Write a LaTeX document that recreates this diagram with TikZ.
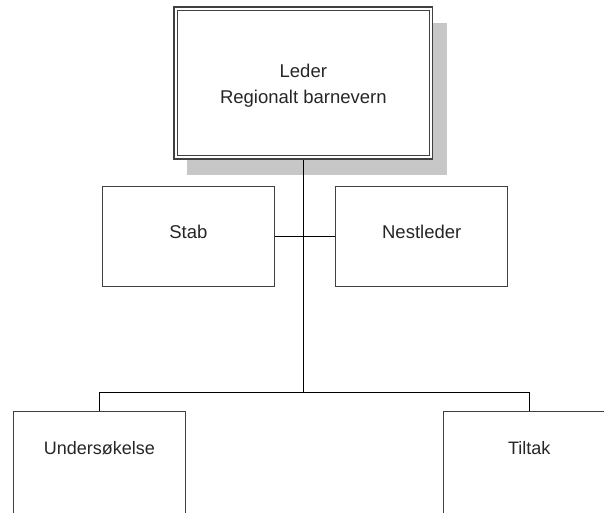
\documentclass[tikz,border=0pt]{standalone}
\usepackage{fontspec}
\setmainfont{Liberation Sans}
\begin{document}
\begin{tikzpicture}[x=1pt,y=-1pt,
  box/.style={draw=black!75, line width=1.1pt, fill=white, minimum width=172pt, minimum height=100pt, inner sep=0pt},
  lbl/.style={font=\fontsize{18.5}{25.5}\selectfont, text=black!85, align=center, inner sep=0pt},
  conn/.style={draw=black, line width=1.3pt}]
\useasboundingbox (0,0) rectangle (604,512);
\clip (0,0) rectangle (604,512);
% shadow of top box
\fill[black!22] (186.7,23) rectangle (447,175);
% top box with double border
\node[draw=black!75, line width=1.1pt, fill=white, minimum width=258.7pt, minimum height=152pt, inner sep=0pt] (leder) at (303.3,83) {};
\node[draw=black!75, line width=1.1pt, minimum width=251.7pt, minimum height=145pt, inner sep=0pt] (lederin) at (303.3,83) {};
\node[lbl] (ledert) at (303.3,85.5) {Leder\\Regionalt barnevern};
% second level
\node[box] (stab) at (188.3,236.7) {};
\node[lbl] (stabt) at (188.3,232) {Stab};
\node[box] (nest) at (421.7,236.7) {};
\node[lbl] (nestt) at (421.7,232) {Nestleder};
% bottom level
\node[box, minimum height=112pt] (unders) at (99.3,467.7) {};
\node[lbl, font=\fontsize{18}{24}\selectfont] (underst) at (99.3,448) {Undersøkelse};
\node[box, minimum height=112pt] (tiltak) at (529.3,467.7) {};
\node[lbl, font=\fontsize{18}{24}\selectfont] (tiltakt) at (529.3,448) {Tiltak};
% connectors
\coordinate (junc) at (303.3,392.7);
\draw[conn] (leder.south) -- (junc);
\draw[conn] (stab.east) -- (nest.west);
\draw[conn] (unders.north) |- (junc) -| (tiltak.north);
\end{tikzpicture}
\end{document}
